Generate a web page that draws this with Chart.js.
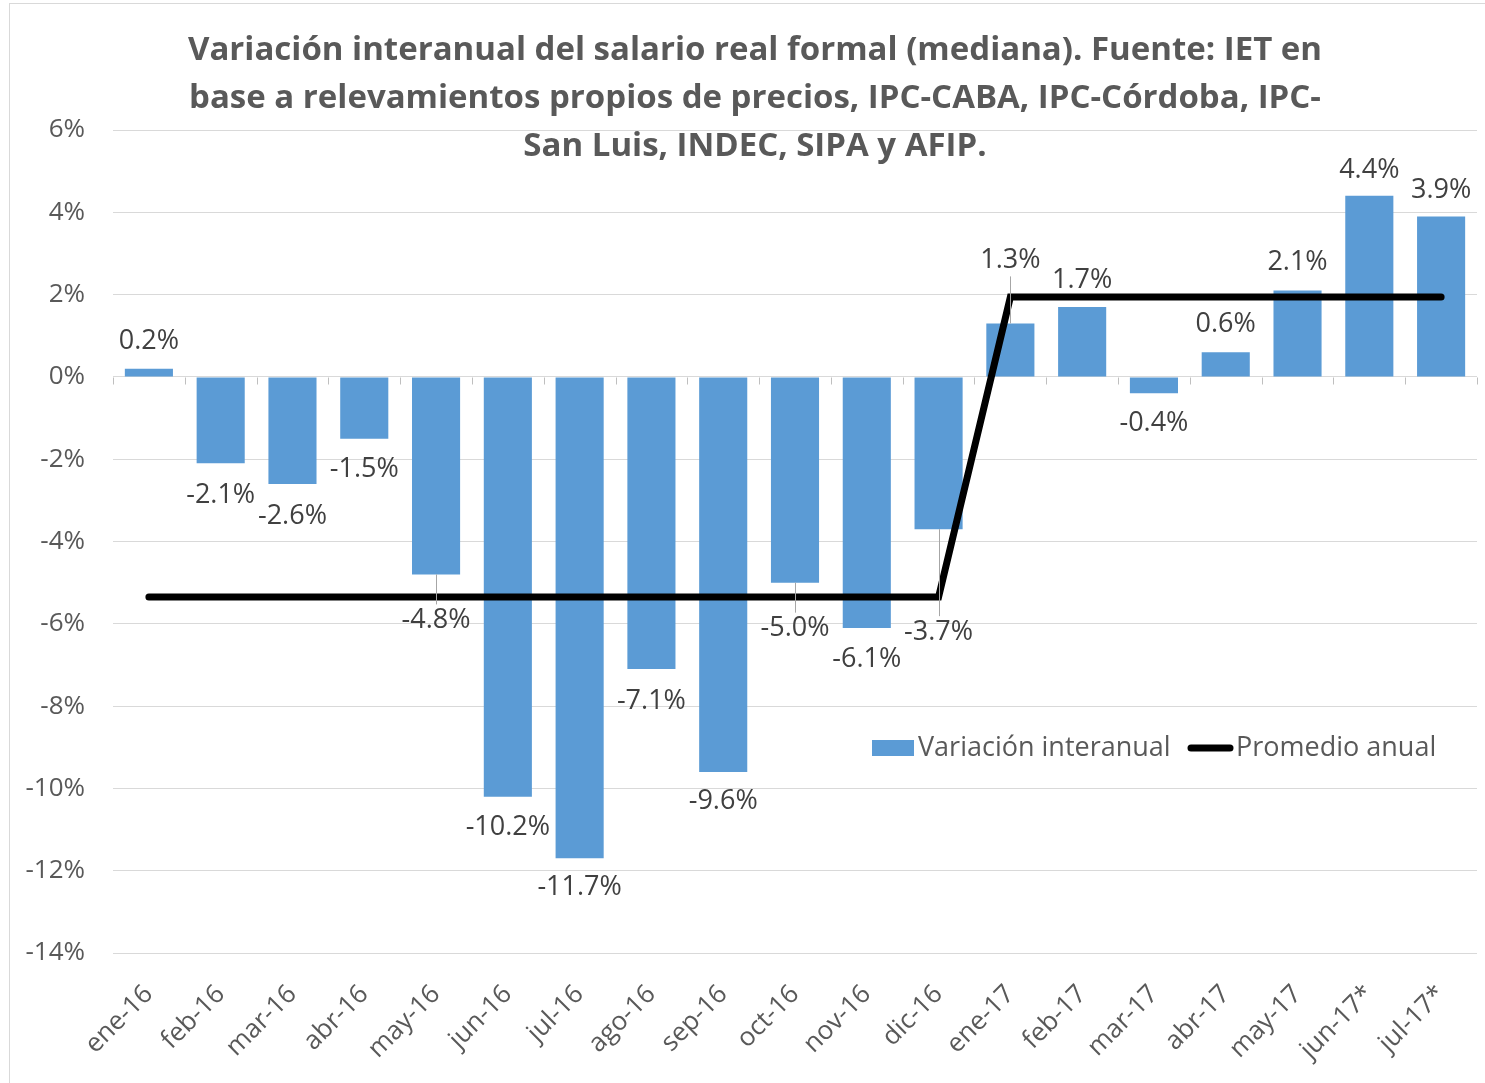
<!DOCTYPE html>
<html>
<head>
<meta charset="utf-8">
<script src="https://cdn.jsdelivr.net/npm/chart.js@4.4.0/dist/chart.umd.min.js"></script>
<style>
  body { margin: 0; background: #fff; }
  canvas { display: block; }
</style>
</head>
<body>
<canvas id="salaryChart" width="1485" height="1083"></canvas>
<script>
const months = ['ene-16', 'feb-16', 'mar-16', 'abr-16', 'may-16', 'jun-16', 'jul-16', 'ago-16', 'sep-16', 'oct-16', 'nov-16', 'dic-16',
                'ene-17', 'feb-17', 'mar-17', 'abr-17', 'may-17', 'jun-17*', 'jul-17*'];
const variacion = [0.2, -2.1, -2.6, -1.5, -4.8, -10.2, -11.7, -7.1, -9.6, -5.0, -6.1, -3.7,
                   1.3, 1.7, -0.4, 0.6, 2.1, 4.4, 3.9];
const promedio = [-5.35, -5.35, -5.35, -5.35, -5.35, -5.35, -5.35, -5.35, -5.35, -5.35, -5.35, -5.35,
                  1.94, 1.94, 1.94, 1.94, 1.94, 1.94, 1.94];
const yTicks = [-14, -12, -10, -8, -6, -4, -2, 0, 2, 4, 6];
const titleLines = ['Variación interanual del salario real formal (mediana). Fuente: IET en',
                    'base a relevamientos propios de precios, IPC-CABA, IPC-Córdoba, IPC-',
                    'San Luis, INDEC, SIPA y AFIP.'];

// label distance from bar end, in px (Excel moved a few of them)
const labelShift = [-27, 32, 32, 31, 46, 31, 29, 32, 29, 46, 31, 103, -63, -27, 30, -28, -28, -26, -26];

const FONT = "'Open Sans', 'DejaVu Sans', sans-serif";

const extras = {
    id: 'extras',
    beforeDraw(chart) {
        const ctx = chart.ctx;
        ctx.save();
        ctx.fillStyle = '#fff';
        ctx.fillRect(0, 0, chart.width, chart.height);
        ctx.strokeStyle = '#d9d9d9';
        ctx.lineWidth = 1;
        ctx.strokeRect(9.5, 3.5, chart.width, chart.height);
        ctx.restore();
    },
    afterDatasetsDraw(chart) {
        const ctx = chart.ctx;
        const y = chart.scales.y;
        const area = chart.chartArea;
        ctx.save();

        // small tick marks on the zero line
        const y0 = Math.round(y.getPixelForValue(0)) + 0.5;
        ctx.strokeStyle = '#bfbfbf';
        ctx.lineWidth = 1;
        const step = (area.right - area.left) / months.length;
        for (let i = 0; i <= months.length; i++) {
            const xx = Math.round(area.left + i * step) + 0.5;
            ctx.beginPath();
            ctx.moveTo(xx, y0);
            ctx.lineTo(xx, y0 + 7);
            ctx.stroke();
        }

        // data labels
        const bars = chart.getDatasetMeta(1).data;
        ctx.font = '27px ' + FONT;
        ctx.fillStyle = '#404040';
        ctx.textAlign = 'center';
        ctx.textBaseline = 'middle';
        bars.forEach((bar, i) => {
            const yEnd = bar.y;
            const ly = yEnd + labelShift[i];
            if (Math.abs(labelShift[i]) > 40) {
                ctx.strokeStyle = '#a6a6a6';
                ctx.lineWidth = 1;
                ctx.beginPath();
                ctx.moveTo(Math.round(bar.x) + 0.5, yEnd);
                ctx.lineTo(Math.round(bar.x) + 0.5, ly - Math.sign(labelShift[i]) * 16);
                ctx.stroke();
            }
            ctx.fillText(variacion[i].toFixed(1) + '%', bar.x, ly);
        });

        // legend inside the plot
        ctx.font = '27px ' + FONT;
        ctx.fillStyle = '#5b9bd5';
        ctx.fillRect(872, 740, 42, 16);
        ctx.strokeStyle = '#000';
        ctx.lineWidth = 7;
        ctx.lineCap = 'round';
        ctx.beginPath();
        ctx.moveTo(1191, 748);
        ctx.lineTo(1230, 748);
        ctx.stroke();
        ctx.fillStyle = '#595959';
        ctx.textAlign = 'left';
        ctx.fillText('Variación interanual', 918, 748);
        ctx.fillText('Promedio anual', 1236, 748);

        // title
        ctx.font = 'bold 33px ' + FONT;
        ctx.textAlign = 'center';
        ctx.fillStyle = '#595959';
        titleLines.forEach((t, i) => ctx.fillText(t, 755, 51 + i * 48));
        ctx.restore();
    }
};

const ctx = document.getElementById('salaryChart').getContext('2d');
const salaryChart = new Chart(ctx, {
    data: {
        labels: months,
        datasets: [{
            type: 'line',
            label: 'Promedio anual',
            data: promedio,
            borderColor: '#000',
            borderWidth: 7,
            borderCapStyle: 'round',
            borderJoinStyle: 'miter',
            pointRadius: 0,
            tension: 0,
            order: 0
        }, {
            type: 'bar',
            label: 'Variación interanual',
            data: variacion,
            backgroundColor: '#5b9bd5',
            barPercentage: 0.67,
            categoryPercentage: 1,
            order: 1
        }]
    },
    options: {
        responsive: false,
        animation: false,
        layout: { padding: { top: 130, right: 8, left: 0, bottom: 0 } },
        scales: {
            x: {
                grid: { display: false },
                border: { display: false },
                ticks: {
                    color: '#595959',
                    font: { family: FONT, size: 26 },
                    minRotation: 45,
                    maxRotation: 45,
                    padding: 18
                },
                afterFit(scale) { scale.height = 130; }
            },
            y: {
                min: -14,
                max: 6,
                border: { display: false },
                grid: { color: '#d9d9d9', lineWidth: 1, drawTicks: false },
                afterBuildTicks(scale) { scale.ticks = yTicks.map(v => ({ value: v })); },
                ticks: {
                    color: '#595959',
                    font: { family: FONT, size: 26 },
                    padding: 28,
                    callback: function (value) { return value + '%'; }
                },
                afterFit(scale) { scale.width = 113; }
            }
        },
        plugins: {
            legend: { display: false },
            tooltip: { enabled: false }
        }
    },
    plugins: [extras]
});
</script>
</body>
</html>
